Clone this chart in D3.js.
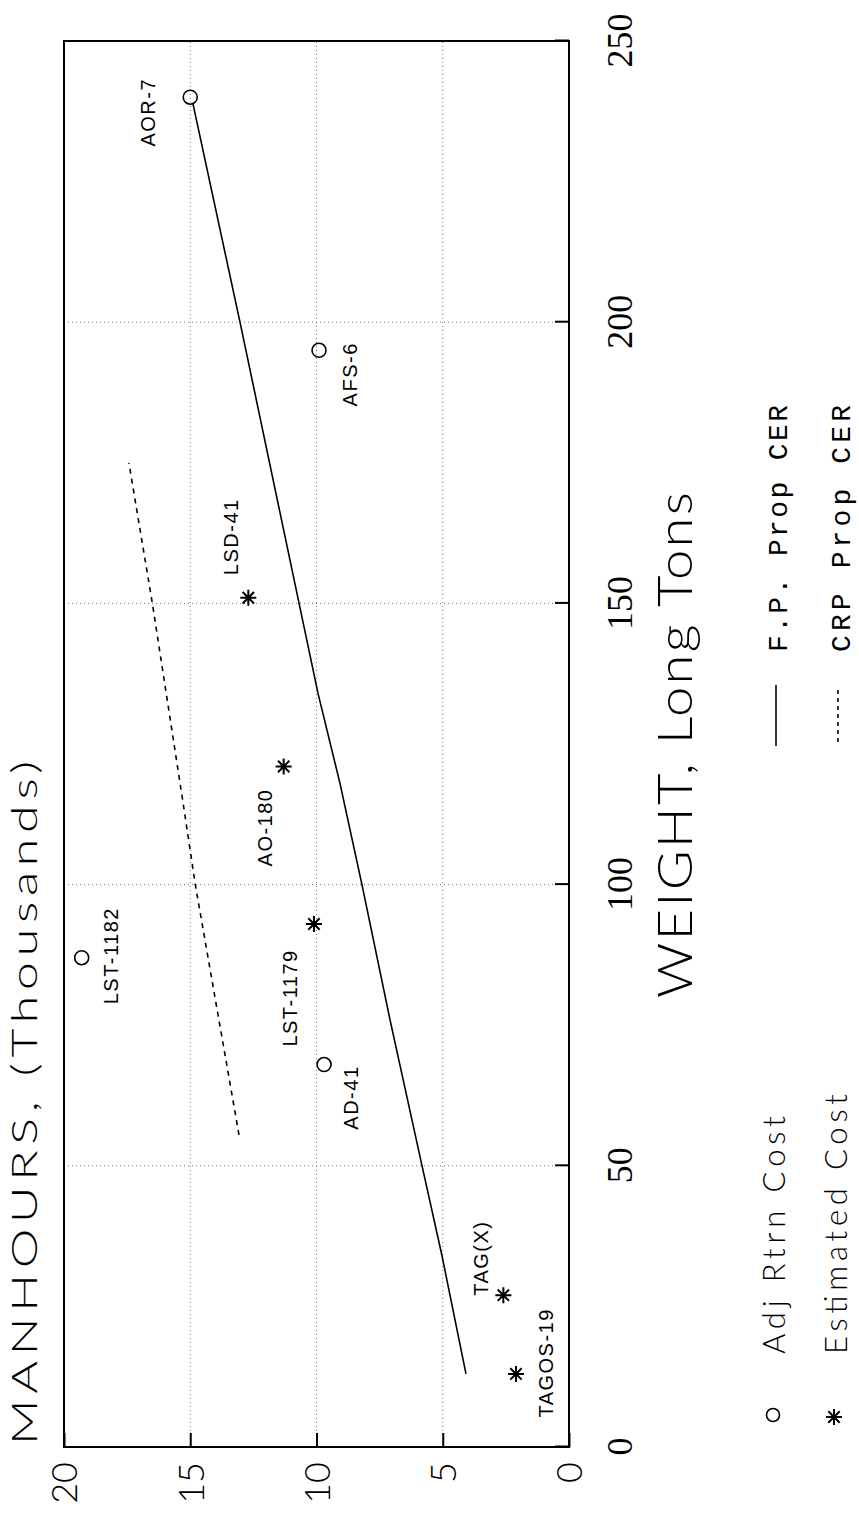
<!DOCTYPE html>
<html>
<head>
<meta charset="utf-8">
<script src="https://cdn.jsdelivr.net/npm/d3@7/dist/d3.min.js"></script>
<style>
body { margin: 0; background: #fff; }
svg { display: block; }
.domain { display: none; }
</style>
</head>
<body>
<svg id="chart" width="859" height="1514"></svg>
<script>
// ships: weight (long tons) vs manhours (thousands)
var names = ["AOR-7", "AFS-6", "LSD-41", "AO-180", "LST-1179", "LST-1182", "AD-41", "TAG(X)", "TAGOS-19"]
var weight = [240, 195, 151, 121, 93, 87, 68, 27, 13]
var manhours = [15.0, 9.9, 12.7, 11.3, 10.1, 19.3, 9.7, 2.6, 2.1]
var costType = ["adj", "adj", "est", "est", "est", "adj", "adj", "est", "est"]

// F.P. Prop CER (solid)
var fpWeight = [13, 34, 50, 76, 100, 118, 134, 150, 200, 239]
var fpManhours = [4.08, 5.03, 5.82, 7.09, 8.2, 9.07, 9.94, 10.69, 13.03, 14.9]

// CRP Prop CER (dashed)
var crpWeight = [55.5, 100, 115, 150, 175]
var crpManhours = [13.07, 14.8, 15.3, 16.5, 17.43]

var weightTicks = [0, 50, 100, 150, 200, 250]
var manhourTicks = [0, 5, 10, 15, 20]

// label placement relative to each point (along weight, across manhours)
var labelShift = [[-15, -35], [-24, 38], [61, -10], [-61, -12], [-74, -17], [2, 36], [-33, 34], [37, -15], [11, 37]]

var W = 1406, H = 505
var thin = "Lato, 'Open Sans', sans-serif"
var serif = "'Liberation Serif', 'DejaVu Serif', serif"
var mono = "'Liberation Mono', 'DejaVu Sans Mono', monospace"

var x = d3.scaleLinear().domain([0, 250]).range([0, W])
var y = d3.scaleLinear().domain([0, 20]).range([H, 0])

// the whole chart is printed sideways
var g = d3.select("#chart").append("g")
	.attr("transform", "translate(64,1447) rotate(-90)")

// grid
g.selectAll(".gx")
	.data(weightTicks.slice(1, -1))
	.enter().append("line")
	.attr("x1", function(d) { return x(d) }).attr("x2", function(d) { return x(d) })
	.attr("y1", 0).attr("y2", H)
	.style("stroke", "#666").style("stroke-width", 0.9).style("stroke-dasharray", "1,3")

g.selectAll(".gy")
	.data(manhourTicks.slice(1, -1))
	.enter().append("line")
	.attr("y1", function(d) { return y(d) }).attr("y2", function(d) { return y(d) })
	.attr("x1", 0).attr("x2", W)
	.style("stroke", "#666").style("stroke-width", 0.9).style("stroke-dasharray", "1,3")

// axes
var xAxis = g.append("g")
	.attr("transform", "translate(0," + H + ")")
	.call(d3.axisBottom(x).tickValues(weightTicks).tickSize(-14).tickFormat(d3.format("d")))
xAxis.selectAll("line").style("stroke", "#000").style("stroke-width", 2)
xAxis.selectAll("text")
	.attr("y", 63).attr("dy", 0)
	.style("font-family", serif).style("font-size", "36px").style("fill", "#000")

var yAxis = g.append("g")
	.call(d3.axisLeft(y).tickValues(manhourTicks).tickSize(-14).tickFormat(d3.format("d")))
yAxis.selectAll("line").style("stroke", "#000").style("stroke-width", 2)
yAxis.selectAll("text")
	.attr("x", -15).attr("dy", "0.36em")
	.style("font-family", thin).style("font-weight", 300).style("font-size", "36px").style("fill", "#000")

g.append("rect")
	.attr("width", W).attr("height", H)
	.style("fill", "none").style("stroke", "#000").style("stroke-width", 2)

// CER lines
var line = d3.line()
	.x(function(d) { return x(d[0]) })
	.y(function(d) { return y(d[1]) })

g.append("path")
	.datum(d3.zip(fpWeight, fpManhours))
	.attr("d", line)
	.style("fill", "none").style("stroke", "#000").style("stroke-width", 1.6)

g.append("path")
	.datum(d3.zip(crpWeight, crpManhours))
	.attr("d", line)
	.style("fill", "none").style("stroke", "#000").style("stroke-width", 1.6).style("stroke-dasharray", "5,5")

// points
var star = "M-8,0L8,0M0,-8L0,8M-5.7,-5.7L5.7,5.7M-5.7,5.7L5.7,-5.7"
var pts = names.map(function(n, i) {
	return {name: n, w: weight[i], m: manhours[i], type: costType[i], shift: labelShift[i]}
})

var pt = g.selectAll(".pt")
	.data(pts)
	.enter().append("g")
	.attr("class", "pt")
	.attr("transform", function(d) { return "translate(" + x(d.w) + "," + y(d.m) + ")" })

pt.filter(function(d) { return d.type == "adj" })
	.append("circle")
	.attr("r", 7)
	.style("fill", "none").style("stroke", "#000").style("stroke-width", 1.6)

pt.filter(function(d) { return d.type == "est" })
	.append("path")
	.attr("d", star)
	.style("fill", "none").style("stroke", "#000").style("stroke-width", 2)

pt.append("text")
	.attr("x", function(d) { return d.shift[0] })
	.attr("y", function(d) { return d.shift[1] })
	.attr("text-anchor", "middle")
	.style("font-family", "'Liberation Sans', Arial, sans-serif").style("font-size", "20px")
	.style("letter-spacing", "1.5px")
	.text(function(d) { return d.name })

// titles
g.append("text")
	.attr("x", 2).attr("y", -27)
	.attr("textLength", 690).attr("lengthAdjust", "spacingAndGlyphs")
	.style("font-family", thin).style("font-weight", 300).style("font-size", "35px")
	.style("letter-spacing", "4px")
	.text("MANHOURS, (Thousands)")

g.append("text")
	.attr("x", W / 2).attr("y", H + 123)
	.attr("text-anchor", "middle")
	.attr("textLength", 508).attr("lengthAdjust", "spacingAndGlyphs")
	.style("font-family", thin).style("font-weight", 300).style("font-size", "48px")
	.style("letter-spacing", "2px")
	.text("WEIGHT, Long Tons")

// legend
var legend = g.append("g")

legend.append("circle")
	.attr("cx", 32).attr("cy", 709).attr("r", 6.5)
	.style("fill", "none").style("stroke", "#000").style("stroke-width", 1.6)
legend.append("text")
	.attr("x", 93).attr("y", 721)
	.attr("textLength", 238).attr("lengthAdjust", "spacing")
	.style("font-family", thin).style("font-weight", 300).style("font-size", "31px")
	.text("Adj Rtrn Cost")

legend.append("path")
	.attr("transform", "translate(30,770)")
	.attr("d", star)
	.style("fill", "none").style("stroke", "#000").style("stroke-width", 2)
legend.append("text")
	.attr("x", 93).attr("y", 783)
	.attr("textLength", 260).attr("lengthAdjust", "spacing")
	.style("font-family", thin).style("font-weight", 300).style("font-size", "31px")
	.text("Estimated Cost")

legend.append("line")
	.attr("x1", 701).attr("x2", 762).attr("y1", 712).attr("y2", 712)
	.style("stroke", "#000").style("stroke-width", 1.6)
legend.append("text")
	.attr("x", 795).attr("y", 723)
	.attr("textLength", 247).attr("lengthAdjust", "spacing")
	.style("font-family", mono).style("font-size", "28px")
	.text("F.P. Prop CER")

legend.append("line")
	.attr("x1", 705).attr("x2", 759).attr("y1", 774).attr("y2", 774)
	.style("stroke", "#000").style("stroke-width", 1.6).style("stroke-dasharray", "4,4")
legend.append("text")
	.attr("x", 795).attr("y", 786)
	.attr("textLength", 247).attr("lengthAdjust", "spacing")
	.style("font-family", mono).style("font-size", "28px")
	.text("CRP Prop CER")
</script>
</body>
</html>
